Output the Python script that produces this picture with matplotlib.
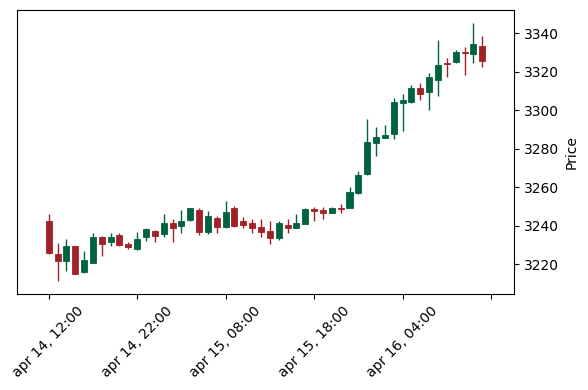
import numpy as np
import pandas as pd
import matplotlib
matplotlib.use("Agg")
import matplotlib.pyplot as plt

# hourly OHLC
opens = [3242.5, 3225.4, 3221.9, 3229.5, 3216.2, 3220.8, 3234.2, 3231.7, 3235.2, 3230.7,
         3228.1, 3234.0, 3237.5, 3235.9, 3241.6, 3240.1, 3243.0, 3248.2, 3236.6, 3244.1,
         3239.2, 3249.3, 3242.5, 3241.6, 3239.4, 3237.3, 3233.8, 3240.4, 3239.0, 3241.1,
         3248.6, 3248.2, 3246.8, 3249.1, 3249.1, 3257.0, 3266.9, 3283.2, 3285.8, 3287.8,
         3304.0, 3304.2, 3311.6, 3309.4, 3315.9, 3324.8, 3325.2, 3330.2, 3329.1, 3333.4]
highs = [3246.0, 3230.9, 3233.0, 3229.6, 3227.1, 3236.1, 3234.5, 3236.1, 3236.1, 3231.7,
         3236.7, 3238.7, 3238.0, 3246.1, 3243.4, 3248.2, 3249.4, 3249.1, 3247.8, 3245.0,
         3253.0, 3250.3, 3244.7, 3243.5, 3243.7, 3242.3, 3242.5, 3243.4, 3246.1, 3249.2,
         3249.9, 3249.9, 3249.6, 3251.3, 3260.0, 3268.5, 3295.5, 3291.2, 3292.2, 3306.2,
         3308.3, 3313.0, 3314.0, 3319.2, 3336.4, 3327.0, 3331.3, 3333.0, 3345.2, 3338.4]
lows = [3225.2, 3211.3, 3216.7, 3215.0, 3215.3, 3220.5, 3224.3, 3229.5, 3229.3, 3228.1,
        3227.4, 3232.0, 3231.7, 3234.0, 3231.7, 3236.4, 3242.5, 3235.2, 3235.9, 3236.4,
        3238.7, 3239.2, 3238.7, 3236.1, 3234.0, 3230.5, 3232.8, 3236.1, 3238.8, 3240.9,
        3242.5, 3243.4, 3246.7, 3246.8, 3249.0, 3256.4, 3266.2, 3276.3, 3285.7, 3284.9,
        3289.2, 3304.0, 3305.4, 3300.2, 3307.4, 3317.3, 3324.8, 3318.3, 3324.4, 3322.3]
closes = [3226.0, 3221.9, 3229.5, 3215.1, 3222.2, 3234.2, 3230.7, 3234.2, 3230.0, 3229.0,
          3233.1, 3238.3, 3234.9, 3241.6, 3239.0, 3242.6, 3249.3, 3236.6, 3245.1, 3239.2,
          3247.0, 3239.9, 3240.4, 3239.0, 3236.9, 3233.8, 3241.6, 3239.0, 3241.3, 3248.6,
          3247.8, 3246.8, 3249.1, 3248.7, 3257.4, 3266.5, 3283.5, 3286.1, 3287.2, 3304.3,
          3305.4, 3311.6, 3308.3, 3317.3, 3323.5, 3324.3, 3330.3, 3329.9, 3334.4, 3325.8]

times = pd.date_range("2025-04-14 12:00", periods=len(opens), freq="h")

up_col = "#006340"
down_col = "#a02128"

o = np.array(opens)
c = np.array(closes)
x = np.arange(len(o))
cols = [up_col if cc >= oo else down_col for oo, cc in zip(o, c)]

fig = plt.figure(figsize=(5.88, 3.9), dpi=100)
ax = fig.add_axes([0.0294, 0.2462, 0.8453, 0.7282])

ax.vlines(x, lows, highs, colors=cols, linewidth=1.0, zorder=2)
ax.bar(x, c - o, bottom=o, width=0.68, color=cols, edgecolor=cols,
       linewidth=0.6, zorder=3)

ax.set_xlim(-3.55, 52.63)
ax.set_ylim(3204.6, 3352.1)

ticks = np.arange(0, 51, 10)
labels = [times[t].strftime("%b %d, %H:%M").lower() if t < len(times) else "" for t in ticks]
ax.set_xticks(ticks)
ax.set_xticklabels(labels, rotation=45, ha="center")

ax.set_yticks(np.arange(3220, 3341, 20))
ax.yaxis.tick_right()
ax.yaxis.set_label_position("right")
ax.set_ylabel("Price")

fig.savefig("out.png", dpi=100)
